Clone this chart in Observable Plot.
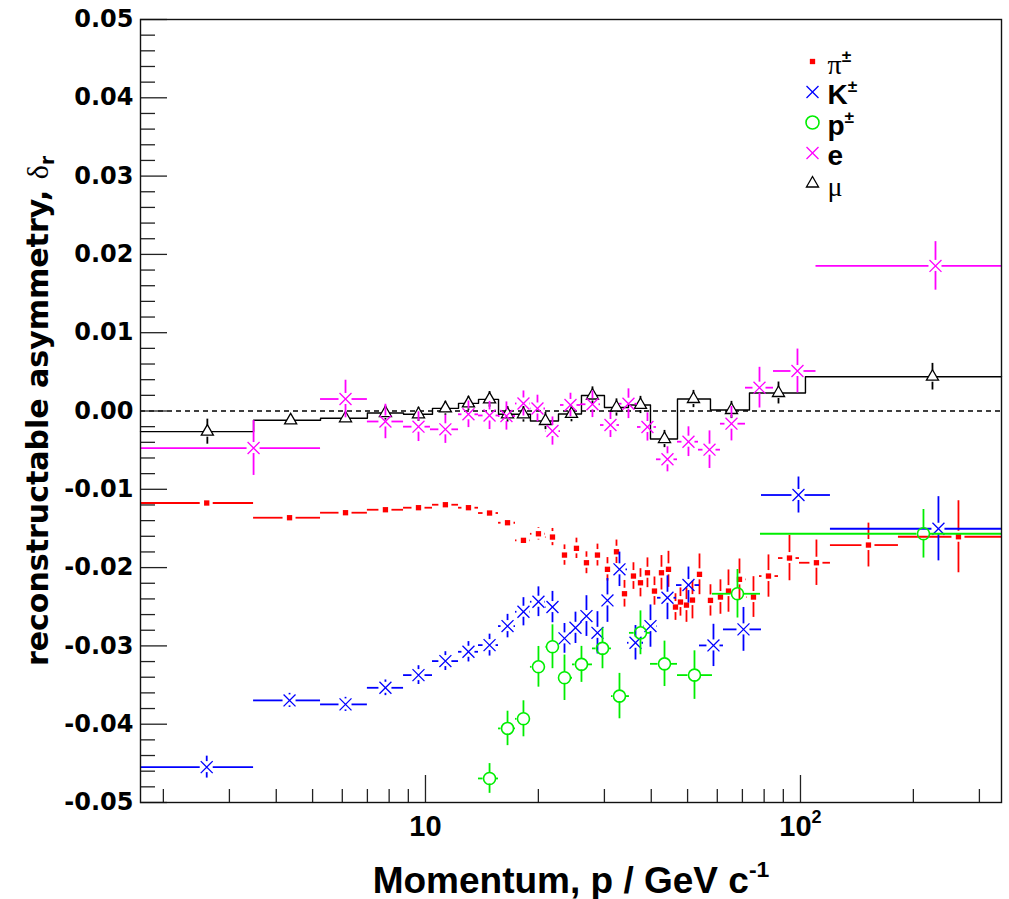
<!DOCTYPE html>
<html>
<head>
<meta charset="utf-8">
<script src="https://cdn.jsdelivr.net/npm/d3@7"></script>
<script src="https://cdn.jsdelivr.net/npm/@observablehq/plot@0.6"></script>
<style>
  html, body { margin: 0; padding: 0; background: #fff; }
  #chart svg { display: block; }
</style>
</head>
<body>
<div id="chart"></div>
<script>
// Reconstructable asymmetry versus momentum, per particle species.
// Each row: [momentum p (GeV/c), bin low edge, bin high edge, asymmetry δr, uncertainty]
const pions = [
  [2.61, 1.738, 3.48, -0.01175, 0.0004],
  [4.34, 3.48, 5.25, -0.01363, 0.0004],
  [6.12, 5.25, 7.00, -0.01299, 0.0004],
  [7.82, 7.00, 8.74, -0.01261, 0.0004],
  [9.58, 8.74, 10.44, -0.01235, 0.0004],
  [11.30, 10.44, 12.25, -0.01197, 0.0004],
  [13.02, 12.25, 13.85, -0.01235, 0.0005],
  [14.82, 13.85, 15.66, -0.01303, 0.0005],
  [16.55, 15.66, 17.38, -0.01427, 0.0005],
  [18.25, 17.38, 19.05, -0.01652, 0.0006],
  [20.01, 19.05, 20.89, -0.01568, 0.0008],
  [21.81, 20.89, 22.63, -0.01610, 0.0011],
  [23.48, 22.63, 24.36, -0.01840, 0.0013],
  [25.27, 24.36, 26.06, -0.01754, 0.0013],
  [26.87, 26.06, 27.71, -0.01938, 0.0014],
  [28.75, 27.71, 29.65, -0.01840, 0.0014],
  [30.57, 29.65, 31.33, -0.02022, 0.0015],
  [32.31, 31.33, 33.11, -0.01798, 0.0015],
  [33.94, 33.11, 34.99, -0.02334, 0.0017],
  [35.86, 34.99, 36.76, -0.02108, 0.0017],
  [37.44, 36.76, 38.37, -0.02194, 0.0018],
  [39.08, 38.37, 40.06, -0.02066, 0.0019],
  [40.80, 40.06, 41.81, -0.02300, 0.0018],
  [42.59, 41.81, 43.65, -0.02066, 0.0022],
  [44.46, 43.65, 45.57, -0.02022, 0.0023],
  [46.42, 45.57, 47.28, -0.02504, 0.0017],
  [47.86, 47.28, 48.75, -0.02440, 0.0018],
  [49.66, 48.75, 50.58, -0.02479, 0.0022],
  [51.52, 50.58, 52.81, -0.02415, 0.0024],
  [53.79, 52.81, 55.81, -0.02086, 0.0026],
  [57.54, 55.81, 59.33, -0.02419, 0.0020],
  [61.18, 59.33, 62.70, -0.02376, 0.0022],
  [64.27, 62.70, 66.68, -0.02300, 0.0027],
  [68.76, 66.68, 71.78, -0.02150, 0.0026],
  [74.93, 71.78, 77.75, -0.02376, 0.0026],
  [82.16, 77.75, 87.37, -0.02108, 0.0027],
  [93.47, 87.37, 99.39, -0.01878, 0.0029],
  [110.3, 99.39, 120.2, -0.01938, 0.0029],
  [151.8, 120.2, 182.5, -0.01712, 0.0028],
  [263.8, 182.5, 343.6, -0.01606, 0.0046]
];

const kaons = [
  [2.61, 1.738, 3.48, -0.04548, 0.0014],
  [4.34, 3.48, 5.25, -0.03696, 0.0009],
  [6.12, 5.25, 7.00, -0.03747, 0.0009],
  [7.82, 7.00, 8.74, -0.03535, 0.0010],
  [9.58, 8.74, 10.44, -0.03373, 0.0012],
  [11.30, 10.44, 12.25, -0.03194, 0.0012],
  [13.02, 12.25, 13.85, -0.03075, 0.0013],
  [14.82, 13.85, 15.66, -0.02990, 0.0014],
  [16.55, 15.66, 17.38, -0.02747, 0.0015],
  [18.25, 17.38, 19.05, -0.02564, 0.0018],
  [20.01, 19.05, 20.89, -0.02436, 0.0019],
  [21.81, 20.89, 22.63, -0.02504, 0.0020],
  [23.48, 22.63, 24.36, -0.02904, 0.0019],
  [25.12, 24.36, 26.06, -0.02769, 0.0020],
  [26.87, 26.06, 27.71, -0.02619, 0.0026],
  [28.75, 27.71, 29.65, -0.02833, 0.0027],
  [30.57, 29.65, 31.72, -0.02419, 0.0028],
  [32.91, 31.72, 34.57, -0.02022, 0.0022],
  [36.31, 34.57, 38.14, -0.02960, 0.0022],
  [39.81, 38.14, 41.56, -0.02747, 0.0027],
  [44.19, 41.56, 46.70, -0.02385, 0.0028],
  [50.27, 46.70, 53.79, -0.02223, 0.0023],
  [58.61, 53.79, 62.32, -0.02994, 0.0027],
  [70.47, 62.32, 78.70, -0.02789, 0.0028],
  [98.78, 78.70, 120.2, -0.01073, 0.0023],
  [233.3, 120.2, 343.6, -0.01504, 0.0041]
];

const protons = [
  [14.82, 13.85, 15.66, -0.04693, 0.0019],
  [16.55, 15.66, 17.38, -0.04054, 0.0022],
  [18.25, 17.38, 19.05, -0.03931, 0.0023],
  [20.01, 19.05, 20.89, -0.03267, 0.0026],
  [21.81, 20.89, 22.63, -0.03011, 0.0028],
  [23.48, 22.63, 24.66, -0.03407, 0.0029],
  [26.06, 24.66, 27.88, -0.03236, 0.0023],
  [29.65, 27.88, 31.33, -0.03032, 0.0026],
  [32.91, 31.33, 34.99, -0.03641, 0.0029],
  [37.44, 34.99, 39.81, -0.02833, 0.0028],
  [43.39, 39.81, 46.99, -0.03229, 0.0029],
  [52.16, 46.99, 58.25, -0.03373, 0.0031],
  [67.92, 58.25, 78.22, -0.02334, 0.0031],
  [212.8, 78.22, 343.6, -0.01568, 0.0031]
];

const electrons = [
  [3.48, 1.738, 5.25, -0.00473, 0.0035],
  [6.12, 5.25, 7.00, 0.00153, 0.0024],
  [7.82, 7.00, 8.74, -0.00134, 0.0022],
  [9.58, 8.74, 10.31, -0.00200, 0.0019],
  [11.30, 10.31, 12.25, -0.00234, 0.0018],
  [13.02, 12.25, 13.85, -0.00042, 0.0017],
  [14.82, 13.85, 15.66, -0.00057, 0.0018],
  [16.44, 15.66, 17.38, -0.00064, 0.0018],
  [18.25, 17.38, 19.05, 0.00096, 0.0016],
  [19.89, 19.05, 20.89, 0.00032, 0.0017],
  [21.81, 20.89, 22.91, -0.00256, 0.0018],
  [24.36, 22.91, 25.90, 0.00077, 0.0015],
  [27.88, 25.90, 29.29, 0.00086, 0.0017],
  [31.14, 29.29, 32.91, -0.00179, 0.0016],
  [34.78, 32.91, 36.76, 0.00093, 0.0019],
  [39.08, 36.76, 41.30, -0.00204, 0.0018],
  [44.19, 41.30, 46.99, -0.00617, 0.0016],
  [50.27, 46.99, 53.46, -0.00392, 0.0019],
  [57.20, 53.46, 61.18, -0.00494, 0.0024],
  [65.46, 61.18, 71.34, -0.00162, 0.0022],
  [77.75, 71.34, 84.72, 0.00298, 0.0026],
  [98.17, 84.72, 110.0, 0.00511, 0.0028],
  [229.1, 110.0, 343.6, 0.01853, 0.0031]
];

const muons = [
  [2.62, 1.738, 3.48, -0.00264, 0.0016],
  [4.37, 3.48, 5.25, -0.00119, 0.0006],
  [6.12, 5.25, 7.00, -0.00093, 0.0006],
  [7.82, 7.00, 8.74, -0.00026, 0.0009],
  [9.58, 8.74, 10.44, -0.00042, 0.0009],
  [11.30, 10.44, 12.25, 0.00034, 0.0009],
  [13.02, 12.25, 13.85, 0.00098, 0.0009],
  [14.82, 13.85, 15.66, 0.00149, 0.0010],
  [16.55, 15.66, 17.38, -0.00042, 0.0010],
  [18.25, 17.38, 19.05, -0.00042, 0.0010],
  [20.89, 19.05, 22.63, -0.00128, 0.0011],
  [24.51, 22.63, 26.06, -0.00038, 0.0010],
  [27.88, 26.06, 30.01, 0.00198, 0.0011],
  [32.31, 30.01, 34.78, 0.00045, 0.0011],
  [37.44, 34.78, 39.81, 0.00077, 0.0011],
  [43.39, 39.81, 46.99, -0.00358, 0.0011],
  [51.84, 46.99, 57.54, 0.00153, 0.0011],
  [65.46, 57.54, 73.11, 0.00013, 0.0011],
  [87.37, 73.11, 103.1, 0.00230, 0.0014],
  [224.9, 103.1, 343.6, 0.00438, 0.0017]
];

// Axis ticks and labels
const yMajorTicks = [-0.05, -0.04, -0.03, -0.02, -0.01, 0, 0.01, 0.02, 0.03, 0.04, 0.05];
const yTickLabels = ["-0.05", "-0.04", "-0.03", "-0.02", "-0.01", "0.00", "0.01", "0.02", "0.03", "0.04", "0.05"];
const yMinorTicks = d3.range(-48, 50, 2).filter(v => v % 10 !== 0).map(v => v / 1000);
const xMajorTicks = [10, 100];
const xTickLabels = ["10", "10^{2}"];
const xMinorTicks = [2, 3, 4, 5, 6, 7, 8, 9, 20, 30, 40, 50, 60, 70, 80, 90, 200, 300];

const xTitle = "Momentum, p / GeV c^{-1}";
const yTitle = "reconstructable asymmetry, δ_{r}";

const legendLabels = ["π^{±}", "K^{±}", "p^{±}", "e", "μ"];

// Layout
const W = 1009, H = 899;
const M = {top: 19, right: 8, bottom: 97, left: 140};
const xDomain = [1.738, 343.6];
const yDomain = [-0.05, 0.05];
const plotW = W - M.left - M.right;
const plotH = H - M.top - M.bottom;
const pxPerDecade = plotW / Math.log10(xDomain[1] / xDomain[0]);
const pxPerUnit = plotH / (yDomain[1] - yDomain[0]);

const RED = "#ff0000", BLUE = "#0000ff", GREEN = "#00ee00", MAGENTA = "#ff00ff", BLACK = "#000000";
const SANS = "'Liberation Sans', Arial, Helvetica, sans-serif";
const WIDE = "'DejaVu Sans', Verdana, sans-serif";

const series = [
  {rows: pions, color: RED, symbol: "square", r: 3, fill: RED, stroke: "none", sw: 0},
  {rows: kaons, color: BLUE, symbol: "times", r: 5.5, fill: "none", stroke: BLUE, sw: 1.3},
  {rows: protons, color: GREEN, symbol: "circle", r: 6, fill: "none", stroke: GREEN, sw: 1.6},
  {rows: muons, color: BLACK, symbol: "triangle", r: 4.5, fill: "white", stroke: BLACK, sw: 1.3, step: true},
  {rows: electrons, color: MAGENTA, symbol: "times", r: 5.5, fill: "none", stroke: MAGENTA, sw: 1.3}
];

// Error bars leave a small gap around each marker
const H_GAP = 6.5, V_GAP = 5.5;
const gx = Math.pow(10, H_GAP / pxPerDecade);
const gy = V_GAP / pxPerUnit;

function toObjects(rows) {
  return rows.map(([p, lo, hi, v, err]) => ({p, lo, hi, v, err}));
}
function horizontalBars(rows) {
  const out = [];
  for (const d of rows) {
    if (d.lo < d.p / gx) out.push({x1: d.lo, x2: d.p / gx, y: d.v});
    if (d.hi > d.p * gx) out.push({x1: d.p * gx, x2: d.hi, y: d.v});
  }
  return out;
}
function verticalBars(rows) {
  const out = [];
  for (const d of rows) {
    if (d.err > gy) {
      out.push({x: d.p, y1: d.v - d.err, y2: d.v - gy});
      out.push({x: d.p, y1: d.v + gy, y2: d.v + d.err});
    }
  }
  return out;
}

const dataMarks = series.flatMap(s => {
  const rows = toObjects(s.rows);
  const marks = [];
  if (s.step) {
    const stepPts = rows.flatMap(d => [{x: d.lo, y: d.v}, {x: d.hi, y: d.v}]);
    marks.push(Plot.line(stepPts, {x: "x", y: "y", stroke: s.color, strokeWidth: 1.4}));
  } else {
    marks.push(Plot.ruleY(horizontalBars(rows), {x1: "x1", x2: "x2", y: "y", stroke: s.color, strokeWidth: 1.8}));
  }
  marks.push(Plot.ruleX(verticalBars(rows), {x: "x", y1: "y1", y2: "y2", stroke: s.color, strokeWidth: 1.8}));
  marks.push(Plot.dot(rows, {x: "p", y: "v", symbol: s.symbol, r: s.r, fill: s.fill, stroke: s.stroke, strokeWidth: s.sw}));
  return marks;
});

// Legend box in the upper right of the frame
const legendStyles = [series[0], series[1], series[2], series[4], series[3]];
const LEG_X = 672, LEG_Y0 = 42, LEG_STEP = 30.5;
const legendMarks = legendLabels.flatMap((label, i) => {
  const s = legendStyles[i];
  return [
    Plot.dot([label], {frameAnchor: "top-left", dx: LEG_X, dy: LEG_Y0 + i * LEG_STEP,
      symbol: s.symbol, r: s.symbol === "circle" ? 6.5 : s.r, fill: s.fill, stroke: s.stroke, strokeWidth: s.sw}),
    Plot.text([label], {frameAnchor: "top-left", dx: LEG_X + 15, dy: LEG_Y0 + i * LEG_STEP + 12,
      text: d => d, textAnchor: "start", lineAnchor: "bottom",
      fontSize: 28, fontFamily: SANS, fontWeight: "bold", fill: BLACK})
  ];
});

const chart = Plot.plot({
  width: W,
  height: H,
  marginTop: M.top,
  marginRight: M.right,
  marginBottom: M.bottom,
  marginLeft: M.left,
  style: {background: "white", overflow: "visible"},
  x: {type: "log", domain: xDomain, axis: null},
  y: {domain: yDomain, axis: null},
  marks: [
    Plot.ruleY([0], {stroke: BLACK, strokeWidth: 1.3, strokeDasharray: "5,4"}),
    ...dataMarks,
    // inward ticks
    Plot.tickY(yMajorTicks, {y: d => d, insetRight: plotW - 27, stroke: "#222", strokeWidth: 1.3}),
    Plot.tickY(yMinorTicks, {y: d => d, insetRight: plotW - 15, stroke: "#222", strokeWidth: 1.3}),
    Plot.tickX(xMajorTicks, {x: d => d, insetTop: plotH - 27, stroke: "#222", strokeWidth: 1.3}),
    Plot.tickX(xMinorTicks, {x: d => d, insetTop: plotH - 13, stroke: "#222", strokeWidth: 1.3}),
    Plot.frame({stroke: "#111", strokeWidth: 1.4}),
    // tick labels
    Plot.text(yMajorTicks, {y: d => d, frameAnchor: "left", dx: -7, text: (d, i) => yTickLabels[i],
      textAnchor: "end", fontSize: 24, fontFamily: WIDE, fontWeight: "bold", fill: BLACK}),
    Plot.text(xMajorTicks, {x: d => d, frameAnchor: "bottom", dy: 33, text: (d, i) => xTickLabels[i],
      textAnchor: "middle", fontSize: 29, fontFamily: SANS, fontWeight: "bold", fill: BLACK}),
    // axis titles
    Plot.text([xTitle], {frameAnchor: "bottom", dy: 90, text: d => d, lineAnchor: "bottom",
      textAnchor: "middle", fontSize: 37, fontFamily: SANS, fontWeight: "bold", fill: BLACK}),
    Plot.text([yTitle], {frameAnchor: "left", dx: -93, rotate: -90, text: d => d, lineAnchor: "bottom",
      textAnchor: "middle", fontSize: 30, fontFamily: WIDE, fontWeight: "bold", fill: BLACK}),
    ...legendMarks
  ]
});

document.getElementById("chart").append(chart);

// Turn ^{..} / _{..} into raised / lowered spans and set Greek letters in a serif face
function formatRichText(svg) {
  const greek = /[\u0370-\u03ff]/;
  d3.select(svg).selectAll("text").each(function () {
    const s = this.textContent;
    if (!/[\^_]\{/.test(s) && !greek.test(s)) return;
    const fs = parseFloat(getComputedStyle(this).fontSize) || 20;
    const tokens = [];
    const re = /([\^_])\{([^}]*)\}|([\u0370-\u03ff])|([^\^_\u0370-\u03ff]+)/g;
    let m;
    while ((m = re.exec(s))) {
      if (m[1]) tokens.push({text: m[2], kind: m[1] === "^" ? "sup" : "sub"});
      else if (m[3]) tokens.push({text: m[3], kind: "greek"});
      else tokens.push({text: m[4], kind: "plain"});
    }
    const el = d3.select(this).text(null);
    let shift = 0;
    for (const t of tokens) {
      const ts = el.append("tspan").text(t.text);
      let target = 0;
      if (t.kind === "sup") { ts.attr("font-size", fs * 0.62); target = -0.42 * fs; }
      else if (t.kind === "sub") { ts.attr("font-size", fs * 0.62); target = 0.22 * fs; }
      else if (t.kind === "greek") {
        ts.attr("font-family", "'Liberation Serif', 'DejaVu Serif', serif").attr("font-weight", "normal");
      }
      if (target !== shift) { ts.attr("dy", target - shift); shift = target; }
    }
  });
}
formatRichText(chart);
</script>
</body>
</html>
